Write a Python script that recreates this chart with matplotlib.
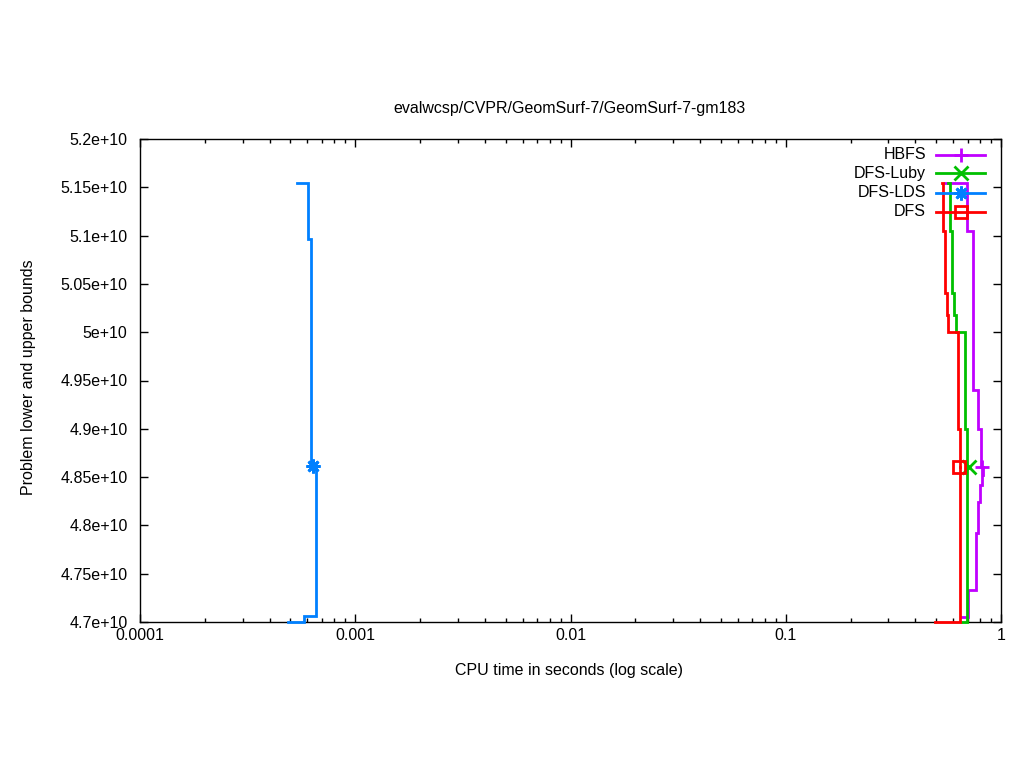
import matplotlib
matplotlib.use("Agg")
import matplotlib.pyplot as plt
from matplotlib.ticker import LogLocator, FixedLocator, NullFormatter

plt.rcParams['font.family'] = ['Liberation Sans', 'DejaVu Sans']
FS = 11.5
plt.rcParams['font.size'] = FS

title = "evalwcsp/CVPR/GeomSurf-7/GeomSurf-7-gm183"
xlabel = "CPU time in seconds (log scale)"
ylabel = "Problem lower and upper bounds"

series_names = ["HBFS", "DFS-Luby", "DFS-LDS", "DFS"]
series_colors = ["#c000ff", "#00c000", "#0080ff", "#ff0000"]
series_markers = ["+", "x", (8, 2, 0), "s"]

# upper bounds (time, value)
hbfs_ub_t = [0.549, 0.693, 0.744, 0.785, 0.807]
hbfs_ub_v = [5.1545e10, 5.105e10, 4.9402e10, 4.9001e10, 4.8608e10]
hbfs_lb_t = [0.657, 0.705, 0.763, 0.785, 0.799, 0.813, 0.822]
hbfs_lb_v = [4.7055e10, 4.7331e10, 4.7924e10, 4.8245e10, 4.8418e10, 4.8522e10, 4.8608e10]

luby_ub_t = [0.565, 0.581, 0.590, 0.607, 0.616, 0.683, 0.693]
luby_ub_v = [5.1545e10, 5.105e10, 5.0403e10, 5.0178e10, 5.0e10, 4.9001e10, 4.8608e10]
luby_lb_t = [0.657, 0.697]
luby_lb_v = [4.7005e10, 4.8608e10]

lds_ub_t = [5.38e-4, 6.05e-4, 6.2e-4]
lds_ub_v = [5.154e10, 5.0965e10, 4.8615e10]
lds_lb_t = [4.89e-4, 5.8e-4, 6.55e-4]
lds_lb_v = [4.7005e10, 4.7065e10, 4.8615e10]

dfs_ub_t = [0.534, 0.539, 0.549, 0.561, 0.569, 0.633, 0.643]
dfs_ub_v = [5.1545e10, 5.105e10, 5.0403e10, 5.0178e10, 5.0e10, 4.9001e10, 4.8608e10]
dfs_lb_t = [0.4935, 0.647]
dfs_lb_v = [4.7005e10, 4.8608e10]

opt_t = [0.818, 0.710, 6.34e-4, 0.640]
opt_v = [4.8608e10, 4.8608e10, 4.8612e10, 4.8608e10]

ub_t = [hbfs_ub_t, luby_ub_t, lds_ub_t, dfs_ub_t]
ub_v = [hbfs_ub_v, luby_ub_v, lds_ub_v, dfs_ub_v]
lb_t = [hbfs_lb_t, luby_lb_t, lds_lb_t, dfs_lb_t]
lb_v = [hbfs_lb_v, luby_lb_v, lds_lb_v, dfs_lb_v]

yticks = [4.7e10, 4.75e10, 4.8e10, 4.85e10, 4.9e10, 4.95e10, 5.0e10, 5.05e10, 5.1e10, 5.15e10, 5.2e10]
ytick_labels = ["4.7e+10", "4.75e+10", "4.8e+10", "4.85e+10", "4.9e+10", "4.95e+10",
                "5e+10", "5.05e+10", "5.1e+10", "5.15e+10", "5.2e+10"]
xticks = [0.0001, 0.001, 0.01, 0.1, 1]
xtick_labels = ["0.0001", "0.001", "0.01", "0.1", "1"]

fig = plt.figure(figsize=(10.24, 7.68), dpi=100)
ax = fig.add_axes([140/1024, 1 - 622/768, 861/1024, 483/768])

lw = 2.0
for i in range(len(series_names)):
    c = series_colors[i]
    ax.plot(ub_t[i], ub_v[i], drawstyle='steps-post', color=c, lw=lw,
            solid_joinstyle='miter', clip_on=False, zorder=3)
    ax.plot(lb_t[i], lb_v[i], drawstyle='steps-post', color=c, lw=lw,
            solid_joinstyle='miter', clip_on=False, zorder=3)
    ax.plot([opt_t[i]], [opt_v[i]], linestyle='none', marker=series_markers[i],
            markersize=10 if i != 3 else 8, markeredgewidth=2.0, color=c,
            markerfacecolor='none' if i == 3 else c, clip_on=False, zorder=4)

ax.set_xscale('log')
ax.set_xlim(0.0001, 1)
ax.set_ylim(4.7e10, 5.2e10)
ax.xaxis.set_major_locator(FixedLocator(xticks))
ax.set_xticklabels(xtick_labels)
ax.xaxis.set_minor_locator(LogLocator(base=10, subs=range(2, 10)))
ax.xaxis.set_minor_formatter(NullFormatter())
ax.yaxis.set_major_locator(FixedLocator(yticks))
ax.set_yticklabels(ytick_labels)

ax.tick_params(which='both', direction='in', top=True, right=True, width=1.0, labelsize=FS)
ax.tick_params(which='major', length=6)
ax.tick_params(which='minor', length=3)
ax.tick_params(axis='y', which='major', pad=9)
ax.tick_params(axis='x', which='major', pad=4)
for s in ax.spines.values():
    s.set_linewidth(1.0)

fig.text(570/1024, 1 - 109/768, title, ha='center', va='center', fontsize=FS)
ax.set_xlabel(xlabel, fontsize=FS)
ax.xaxis.set_label_coords(0.4985, -0.0994)
ax.xaxis.label.set_va('center')
ax.set_ylabel(ylabel, fontsize=FS)
ax.yaxis.set_label_coords(-0.130, 0.506)
ax.yaxis.label.set_va('center')

# key (gnuplot style: text then sample line with point)
key_y = [0.9669, 0.929, 0.8888, 0.8495]
for i in range(len(series_names)):
    c = series_colors[i]
    ax.plot([0.9245, 0.9814], [key_y[i], key_y[i]], transform=ax.transAxes,
            color=c, lw=lw, clip_on=False, zorder=3)
    ax.plot([0.953], [key_y[i]], transform=ax.transAxes, linestyle='none',
            marker=series_markers[i], markersize=10 if i != 3 else 8, markeredgewidth=2.0,
            color=c, markerfacecolor='none' if i == 3 else c, clip_on=False, zorder=4)
    ax.text(0.9129, key_y[i], series_names[i], transform=ax.transAxes,
            ha='right', va='center', fontsize=FS)

fig.savefig("out.png", dpi=100)
